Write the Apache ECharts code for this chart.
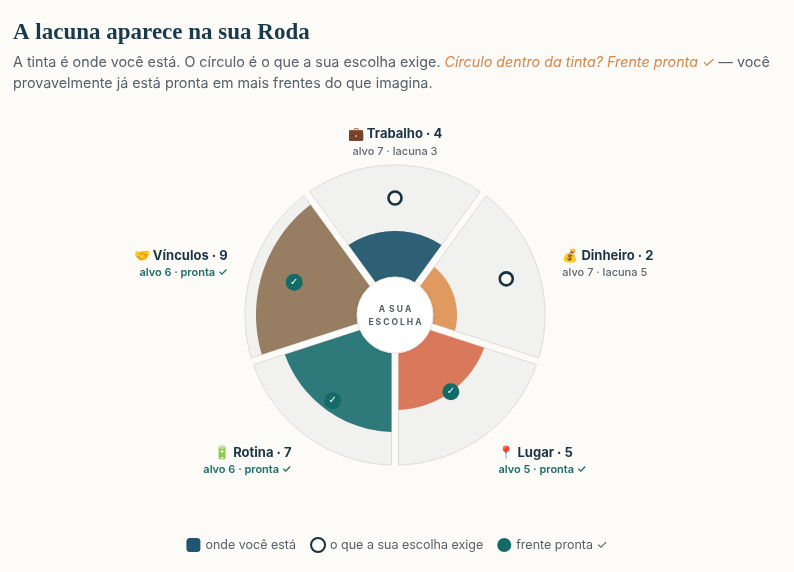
<!DOCTYPE html>
<html>
<head>
<meta charset="utf-8">
<script src="https://cdn.jsdelivr.net/npm/echarts@6/dist/echarts.min.js"></script>
<style>
  html, body { margin: 0; padding: 0; background: #fcfbf8; }
  #chart { width: 794px; height: 572px; }
</style>
</head>
<body>
<div id="chart"></div>
<script>
// fronts of the wheel, clockwise from the top
const fronts = ['Trabalho', 'Dinheiro', 'Lugar', 'Rotina', 'Vínculos'];
const icons = ['💼', '💰', '📍', '🔋', '🤝'];
const current = [4, 2, 5, 7, 9];   // onde você está
const target = [7, 7, 5, 6, 6];    // o que a sua escolha exige
const colors = ['#2d6075', '#e0995e', '#d9785a', '#2e7a7a', '#977e63'];

const BG = '#fcfbf8';
const NAVY = '#17323f';
const TEAL = '#136b66';

const chart = echarts.init(document.getElementById('chart'));

// a wedge with straight, constant-width gaps on both sides
function wedgePoints(cx, cy, r0, r1, mid, half, h) {
    const pts = [];
    const steps = 40;
    const a1 = mid + half - Math.asin(h / r1), a2 = mid - half + Math.asin(h / r1);
    for (let i = 0; i <= steps; i++) {
        const a = a1 + (a2 - a1) * i / steps;
        pts.push([cx + r1 * Math.cos(a), cy - r1 * Math.sin(a)]);
    }
    const b1 = mid - half + Math.asin(h / r0), b2 = mid + half - Math.asin(h / r0);
    for (let i = 0; i <= steps; i++) {
        const a = b1 + (b2 - b1) * i / steps;
        pts.push([cx + r0 * Math.cos(a), cy - r0 * Math.sin(a)]);
    }
    return pts;
}

function polarInfo(params, api, idx, value) {
    const cs = params.coordSys;
    const p = api.coord([value, idx]);
    const dx = p[0] - cs.cx, dy = cs.cy - p[1];
    return { cx: cs.cx, cy: cs.cy, r: Math.sqrt(dx * dx + dy * dy), ang: Math.atan2(dy, dx), p: p };
}

const half = Math.PI / fronts.length;

const wedgeData = fronts.map((f, i) => [current[i], i]);
const readyData = [], gapData = [];
fronts.forEach((f, i) => {
    if (target[i] <= current[i]) readyData.push([target[i], i]);
    else gapData.push([target[i], i]);
});

const option = {
    backgroundColor: BG,
    animation: false,
    title: {
        left: 13,
        top: 22,
        padding: 0,
        text: 'A lacuna aparece na sua Roda',
        textStyle: { fontFamily: 'Liberation Serif', fontWeight: 'bold', fontSize: 23, color: '#183a4a' },
        itemGap: 7,
        subtext: 'A tinta é onde você está. O círculo é o que a sua escolha exige. {o|Círculo dentro da tinta? Frente pronta ✓} — você\nprovavelmente já está pronta em mais frentes do que imagina.',
        subtextStyle: {
            fontFamily: 'Inter', fontSize: 14.3, lineHeight: 21, color: '#56616a',
            rich: { o: { fontFamily: 'Inter', fontSize: 14.3, fontStyle: 'italic', color: '#d4874a' } }
        }
    },
    legend: {
        bottom: 14,
        left: 'center',
        itemWidth: 14,
        itemHeight: 14,
        itemGap: 14,
        textStyle: { fontFamily: 'Inter', fontSize: 12.5, color: '#555f66' },
        data: [
            { name: 'onde você está', icon: 'roundRect' },
            { name: 'o que a sua escolha exige', icon: 'circle' },
            { name: 'frente pronta ✓', icon: 'circle' }
        ]
    },
    polar: { center: [395, 315], radius: [40, 150] },
    angleAxis: {
        type: 'category',
        data: fronts,
        startAngle: 90 + 180 / fronts.length,
        clockwise: true,
        axisLine: { show: false }, axisTick: { show: false },
        axisLabel: { show: false }, splitLine: { show: false }
    },
    radiusAxis: {
        type: 'value', min: 0, max: 10,
        axisLine: { show: false }, axisTick: { show: false },
        axisLabel: { show: false }, splitLine: { show: false }
    },
    series: [
        {
            name: 'onde você está',
            type: 'custom',
            coordinateSystem: 'polar',
            itemStyle: { color: '#1f5570' },
            data: wedgeData,
            renderItem: function (params, api) {
                const idx = api.value(1);
                const full = polarInfo(params, api, idx, 10);
                const val = polarInfo(params, api, idx, api.value(0));
                return {
                    type: 'group',
                    children: [
                        {
                            type: 'polygon',
                            shape: { points: wedgePoints(full.cx, full.cy, 20, full.r, full.ang, half, 3.5) },
                            style: { fill: '#f1f1ef', stroke: '#dcdcd9', lineWidth: 1 }
                        },
                        {
                            type: 'polygon',
                            shape: { points: wedgePoints(val.cx, val.cy, 20, val.r, val.ang, half, 3.5) },
                            style: { fill: colors[idx] }
                        }
                    ]
                };
            },
            z: 1
        },
        {
            name: 'centro',
            type: 'custom',
            coordinateSystem: 'polar',
            data: [[0, 0]],
            silent: true,
            renderItem: function (params, api) {
                const cs = params.coordSys;
                return {
                    type: 'group',
                    children: [
                        {
                            type: 'circle',
                            shape: { cx: cs.cx, cy: cs.cy, r: cs.r0 - 2 },
                            style: { fill: '#ffffff', stroke: '#ecebe8', lineWidth: 1, shadowBlur: 4, shadowColor: 'rgba(0,0,0,0.06)' }
                        },
                        {
                            type: 'text',
                            x: cs.cx, y: cs.cy + 1,
                            style: {
                                text: 'A  S U A\nE S C O L H A',
                                align: 'center', verticalAlign: 'middle',
                                fontFamily: 'Inter', fontWeight: 'bold', fontSize: 8.5, lineHeight: 13,
                                fill: '#575f65'
                            }
                        }
                    ]
                };
            },
            z: 3
        },
        {
            name: 'o que a sua escolha exige',
            type: 'scatter',
            coordinateSystem: 'polar',
            symbol: 'circle',
            symbolSize: 13,
            itemStyle: { color: BG, borderColor: NAVY, borderWidth: 2.6, opacity: 1 },
            data: gapData,
            z: 4
        },
        {
            name: 'frente pronta ✓',
            type: 'scatter',
            coordinateSystem: 'polar',
            symbol: 'circle',
            symbolSize: 17,
            itemStyle: { color: TEAL, opacity: 1 },
            label: {
                show: true, position: 'inside', formatter: '✓',
                color: '#ffffff', fontSize: 10, fontWeight: 'bold', fontFamily: 'DejaVu Sans'
            },
            data: readyData,
            z: 4
        },
        {
            name: 'rotulos',
            type: 'custom',
            coordinateSystem: 'polar',
            silent: true,
            clip: false,
            data: wedgeData,
            renderItem: function (params, api) {
                const idx = api.value(1);
                const lab = polarInfo(params, api, idx, 12.36);
                const c = Math.cos(lab.ang);
                const align = c > 0.3 ? 'left' : (c < -0.3 ? 'right' : 'center');
                const ready = target[idx] <= current[idx];
                const sub = ready ? 'alvo ' + target[idx] + ' · pronta ✓'
                                  : 'alvo ' + target[idx] + ' · lacuna ' + (target[idx] - current[idx]);
                return {
                    type: 'text',
                    x: lab.p[0], y: lab.p[1] + 4,
                    style: {
                        text: '{t|' + icons[idx] + ' ' + fronts[idx] + ' · ' + current[idx] + '}\n{' + (ready ? 'ok' : 's') + '|' + sub + '}',
                        align: align, verticalAlign: 'middle',
                        rich: {
                            t: { fontFamily: 'Inter', fontWeight: 'bold', fontSize: 13, lineHeight: 17, fill: '#1b3546', align: align },
                            s: { fontFamily: 'Inter', fontWeight: 500, fontSize: 11, lineHeight: 17, fill: '#5d6870', align: align },
                            ok: { fontFamily: 'Inter', fontWeight: 600, fontSize: 11, lineHeight: 17, fill: '#1d6e69', align: align }
                        }
                    }
                };
            },
            z: 5
        }
    ]
};

chart.setOption(option);
</script>
</body>
</html>
